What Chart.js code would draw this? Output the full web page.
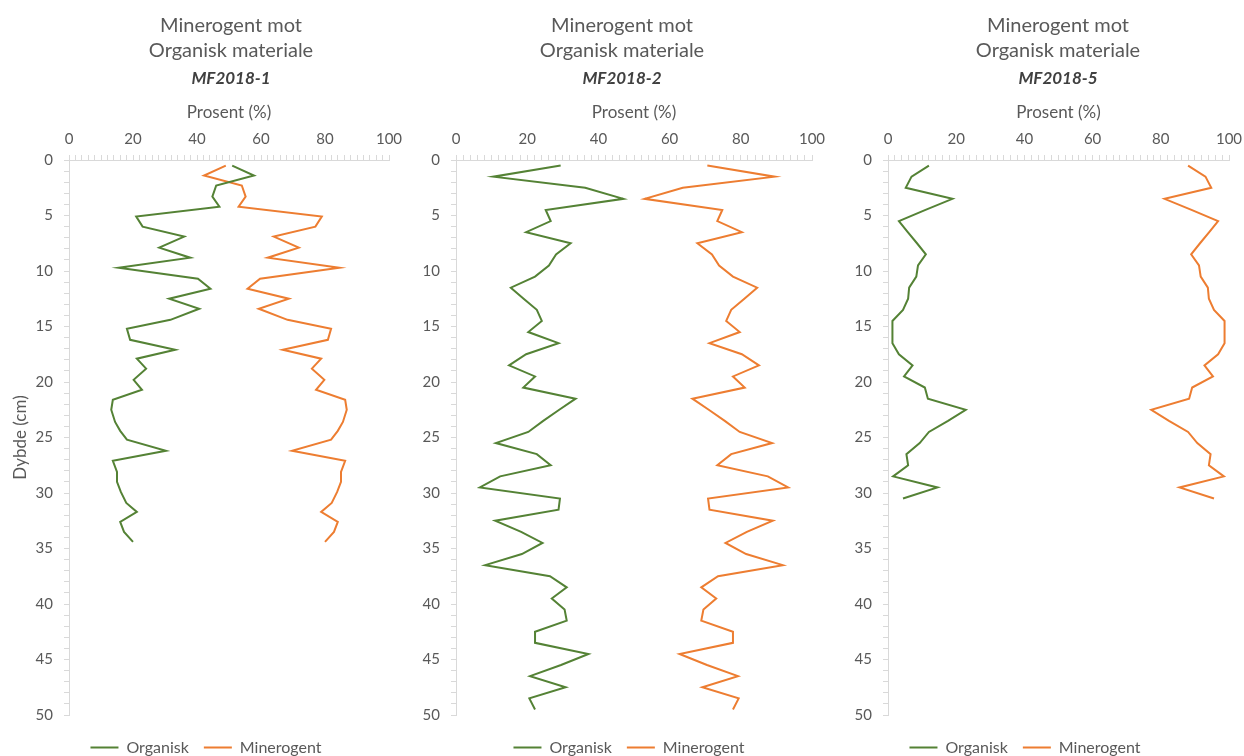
<!DOCTYPE html>
<html lang="no">
<head>
  <meta charset="UTF-8" />
  <title>Minerogent mot Organisk materiale</title>
  <script src="https://cdn.jsdelivr.net/npm/chart.js"></script>
  <style>
    html, body { margin: 0; padding: 0; background: #fff; overflow: hidden; }
    body { width: 1244px; height: 756px; position: relative; }
    .panel { position: absolute; top: 0; height: 756px; }
  </style>
</head>
<body>

  <div class="panel" style="left:0px;width:462px"><canvas id="c1"></canvas></div>
  <div class="panel" style="left:405px;width:434px"><canvas id="c2"></canvas></div>
  <div class="panel" style="left:850px;width:416px"><canvas id="c3"></canvas></div>

  <script>
    // MF2018-1 : depth (cm), organisk (%), minerogent (%)
    const depth1 = [0.5, 1.4, 2.3, 3.3, 4.2, 5.1, 6.0, 6.9, 7.9, 8.8, 9.7, 10.7, 11.6, 12.5, 13.4, 14.4, 15.2, 16.2, 17.1, 17.9,
                    18.8, 19.8, 20.7, 21.6, 22.5, 23.6, 24.4, 25.2, 26.2, 27.1, 28.1, 29.0, 29.9, 30.9, 31.7, 32.6, 33.5, 34.4];
    const organisk1 = [51, 57.8, 46, 44.8, 47, 21, 23, 36, 28.2, 37.9, 15.5, 40.3, 44.2, 31.3, 40.7, 31.7, 18.1, 19.1, 33.2, 21.2,
                       24.1, 20.2, 22.8, 13.7, 13.2, 14.4, 16, 18.1, 30.3, 13.7, 15, 15, 16.2, 17.9, 21.2, 16, 17.2, 20];
    const minerogent1 = [49, 42.2, 54, 55.2, 53, 79, 77, 64, 71.8, 62.1, 84.5, 59.7, 55.8, 68.7, 59.3, 68.3, 81.9, 80.9, 66.8, 78.8,
                         75.9, 79.8, 77.2, 86.3, 86.8, 85.6, 84, 81.9, 69.7, 86.3, 85, 85, 83.8, 82.1, 78.8, 84, 82.8, 80];

    // MF2018-2
    const depth2 = [0.5, 1.5, 2.5, 3.5, 4.5, 5.5, 6.5, 7.5, 8.5, 9.5, 10.5, 11.5, 12.5, 13.5, 14.5, 15.5, 16.5, 17.5, 18.5, 19.5,
                    20.5, 21.5, 22.5, 23.5, 24.5, 25.5, 26.5, 27.5, 28.5, 29.5, 30.5, 31.5, 32.5, 33.5, 34.5, 35.5, 36.5, 37.5, 38.5, 39.5,
                    40.5, 41.5, 42.5, 43.5, 44.5, 45.5, 46.5, 47.5, 48.5, 49.5];
    const organisk2 = [29.4, 10.5, 36.3, 47.0, 25.2, 26.6, 19.7, 32.2, 28.1, 26.1, 22.2, 15.4, 19, 22.7, 24.1, 20.3, 28.8, 19.7, 14.9, 22.2,
                       18.9, 33.6, 29, 24.5, 20.3, 11.2, 22.7, 26.6, 12.4, 6.7, 29.2, 28.8, 11.0, 18.3, 24.3, 18.5, 8.2, 26.4, 31.1, 26.9,
                       30.5, 31.1, 22.2, 22.2, 37.2, 29.5, 20.8, 30.8, 20.6, 22.2];
    const minerogent2 = [70.6, 89.5, 63.7, 53.0, 74.8, 73.4, 80.3, 67.8, 71.9, 73.9, 77.8, 84.6, 81, 77.3, 75.9, 79.7, 71.2, 80.3, 85.1, 77.8,
                         81.1, 66.4, 71, 75.5, 79.7, 88.8, 77.3, 73.4, 87.6, 93.3, 70.8, 71.2, 89.0, 81.7, 75.7, 81.5, 91.8, 73.6, 68.9, 73.1,
                         69.5, 68.9, 77.8, 77.8, 62.8, 70.5, 79.2, 69.2, 79.4, 77.8];

    // MF2018-5
    const depth3 = [0.5, 1.5, 2.5, 3.5, 4.5, 5.5, 6.5, 7.5, 8.5, 9.5, 10.5, 11.5, 12.5, 13.5, 14.5, 15.5, 16.5, 17.5, 18.5, 19.5,
                    20.5, 21.5, 22.5, 23.5, 24.5, 25.5, 26.5, 27.5, 28.5, 29.5, 30.5];
    const organisk3 = [12.0, 6.9, 5.2, 18.9, 11, 3.2, 5.8, 8.5, 11.1, 8.8, 8.3, 6.2, 5.9, 4.4, 1.3, 1.3, 1.3, 3.2, 7.2, 4.7,
                       10.8, 11.7, 22.8, 17.6, 12.0, 9.3, 5.4, 5.9, 1.5, 14.5, 4.4];
    const minerogent3 = [88.0, 93.1, 94.8, 81.1, 89, 96.8, 94.2, 91.5, 88.9, 91.2, 91.7, 93.8, 94.1, 95.6, 98.7, 98.7, 98.7, 96.8, 92.8, 95.3,
                         89.2, 88.3, 77.2, 82.4, 88.0, 90.7, 94.6, 94.1, 98.5, 85.5, 95.6];

    const GREEN = '#548235';
    const ORANGE = '#ED7D31';
    const GREY = '#595959';
    const AXIS = '#d9d9d9';
    const FONT = 'Lato, "Open Sans", sans-serif';

    // moves the legend after layout so it sits where the original has it
    const legendShift = {
      id: 'legendShift',
      afterLayout(chart, args, opts) {
        const lg = chart.legend;
        if (!lg) return;
        lg.left += opts.dx; lg.right += opts.dx;
        lg.top += opts.dy; lg.bottom += opts.dy;
      }
    };

    function series(label, depth, values, color) {
      return {
        label: label,
        data: depth.map((d, i) => ({ x: values[i], y: d })),
        borderColor: color,
        backgroundColor: color,
        borderWidth: 2,
        showLine: true,
        pointRadius: 0,
        tension: 0
      };
    }

    function makeChart(id, core, depth, org, min, yTitle, yWidth, rightWidth, legendDx) {
      new Chart(document.getElementById(id), {
        type: 'scatter',
        data: {
          datasets: [
            series('Organisk', depth, org, GREEN),
            series('Minerogent', depth, min, ORANGE)
          ]
        },
        options: {
          responsive: true,
          maintainAspectRatio: false,
          animation: false,
          layout: { padding: 0 },
          scales: {
            x: {
              type: 'linear', position: 'top', min: 0, max: 100,
              afterFit: s => { s.height = 71.6; },
              ticks: {
                stepSize: 2, autoSkip: false, maxRotation: 0, padding: 7,
                color: GREY, font: { family: FONT, size: 15 },
                callback: v => (v % 20 === 0 ? String(v) : '')
              },
              grid: { drawOnChartArea: false, color: AXIS, tickColor: AXIS, tickLength: 5 },
              border: { color: AXIS },
              title: {
                display: true, text: 'Prosent (%)', color: GREY,
                font: { family: FONT, size: 17 }, padding: { top: 14.4, bottom: 0 }
              }
            },
            y: {
              type: 'linear', position: 'left', reverse: true, min: 0, max: 50,
              afterFit: s => { s.width = yWidth; },
              ticks: {
                stepSize: 1, autoSkip: false, padding: 11,
                color: GREY, font: { family: FONT, size: 15 },
                callback: v => (v % 5 === 0 ? String(v) : '')
              },
              grid: { drawOnChartArea: false, color: AXIS, tickColor: AXIS, tickLength: 5 },
              border: { color: AXIS },
              title: {
                display: !!yTitle, text: yTitle, color: GREY,
                font: { family: FONT, size: 17 }, padding: { top: 10, bottom: 0 }
              }
            },
            // empty axis, only keeps room on the right so the title centres like the original
            yr: {
              position: 'right',
              afterFit: s => { s.width = rightWidth; },
              ticks: { display: false },
              grid: { display: false },
              border: { display: false }
            }
          },
          plugins: {
            title: {
              display: true,
              text: ['Minerogent mot', 'Organisk materiale'],
              color: GREY,
              font: { family: FONT, size: 20, weight: 'normal', lineHeight: 1.25 },
              padding: { top: 13, bottom: 0 }
            },
            subtitle: {
              display: true,
              text: core,
              color: '#404040',
              font: { family: FONT, size: 17, weight: 'bold', style: 'italic', lineHeight: 1.2 },
              padding: { top: 5, bottom: 0 }
            },
            legend: {
              position: 'bottom',
              labels: {
                usePointStyle: true, pointStyle: 'line', pointStyleWidth: 28,
                color: GREY, font: { family: FONT, size: 16 }, padding: 15
              }
            },
            legendShift: { dx: legendDx, dy: 9.5 },
            tooltip: { enabled: false }
          }
        },
        plugins: [legendShift]
      });
    }

    makeChart('c1', 'MF2018-1', depth1, organisk1, minerogent1, 'Dybde (cm)', 69, 73, -25);
    makeChart('c2', 'MF2018-2', depth2, organisk2, minerogent2, '', 51, 27, 7);
    makeChart('c3', 'MF2018-5', depth3, organisk3, minerogent3, '', 38, 37, -33);
  </script>
</body>
</html>
